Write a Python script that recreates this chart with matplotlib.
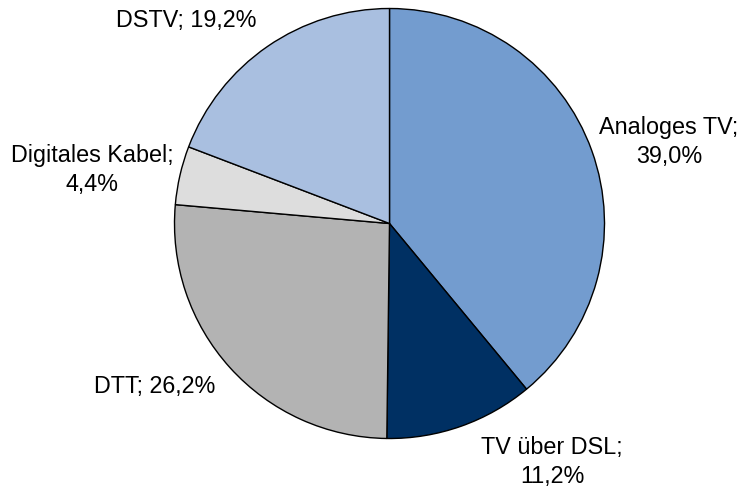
import matplotlib
matplotlib.use("Agg")
import matplotlib.pyplot as plt

categories = ["Analoges TV", "TV über DSL", "DTT", "Digitales Kabel", "DSTV"]
values = [39.0, 11.2, 26.2, 4.4, 19.2]
value_labels = ["39,0%", "11,2%", "26,2%", "4,4%", "19,2%"]
colors = ["#739CCF", "#003063", "#B3B3B3", "#DDDDDD", "#A9BFE0"]

plt.rcParams['font.family'] = ['Liberation Sans', 'DejaVu Sans']

W, H = 739, 488
fig = plt.figure(figsize=(W / 100, H / 100), dpi=100)
ax = fig.add_axes([0, 0, 1, 1])
cx, cy, R = 389.5, 223.5, 215.0
ax.axis("off")

ax.pie(values, colors=colors, startangle=90, counterclock=False, radius=1,
       wedgeprops=dict(edgecolor="black", linewidth=1.0))
ax.set_xlim(-cx / R, (W - cx) / R)
ax.set_ylim((cy - H) / R, cy / R)
ax.set_aspect("auto")

def px(x, y):
    return ((x - cx) / R, (cy - y) / R)

label_pos = [(669, 142, "{};\n{}"), (552, 462, "{};\n{}"), (155, 386, "{}; {}"),
             (92, 170, "{};\n{}"), (186, 21, "{}; {}")]
for (x, y, fmt), c, v in zip(label_pos, categories, value_labels):
    tx, ty = px(x, y)
    ax.text(tx, ty, fmt.format(c, v), ha="center", va="center", fontsize=16.8,
            linespacing=1.32, color="black")

fig.savefig("out.png", dpi=100, facecolor="white")
